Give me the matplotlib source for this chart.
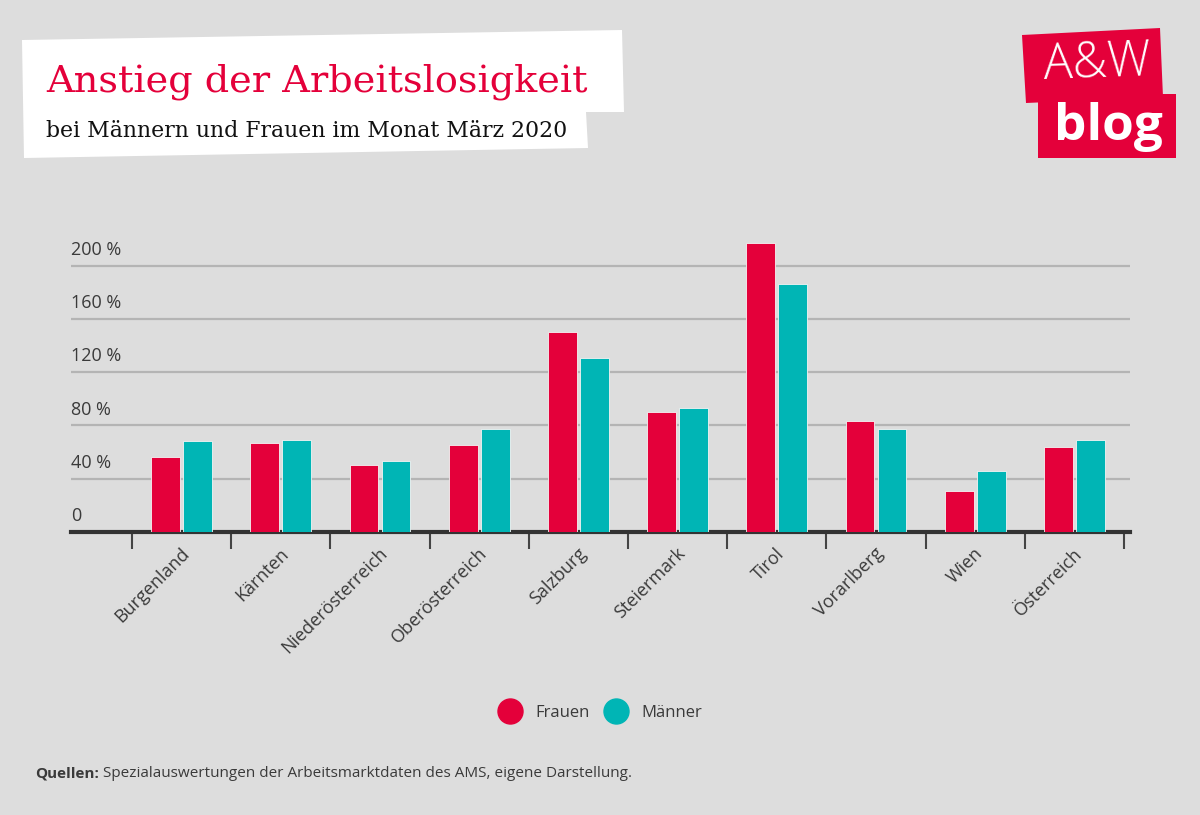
import matplotlib
matplotlib.use("Agg")
import matplotlib.pyplot as plt
from matplotlib.patches import Polygon
from matplotlib.lines import Line2D
import matplotlib.transforms as mtransforms
import numpy as np

# data
regions = ["Burgenland", "Kärnten", "Niederösterreich", "Oberösterreich", "Salzburg",
           "Steiermark", "Tirol", "Vorarlberg", "Wien", "Österreich"]
frauen = [56, 67, 50, 65, 150, 90, 217, 83, 31, 64]
maenner = [68, 69, 53, 77, 131, 93, 186, 77, 46, 69]
y_ticks = [0, 40, 80, 120, 160, 200]
y_labels = ["0", "40 %", "80 %", "120 %", "160 %", "200 %"]

RED = "#e4003a"
TEAL = "#00b5b5"
BG = "#dddddd"
TXT = "#3a3a3a"
SANS = ["Open Sans", "DejaVu Sans"]
SERIF = ["DejaVu Serif"]

W, H = 1200, 815
fig = plt.figure(figsize=(12, 8.15), dpi=100, facecolor=BG)


def px(x, y):
    return (x / W, 1 - y / H)


# title box (white, slightly skewed)
box = [(22, 40), (622, 30), (624, 112), (586, 112), (588, 148), (24, 158)]
fig.patches.append(Polygon([px(*p) for p in box], closed=True, facecolor="white",
                           edgecolor="none", transform=fig.transFigure, zorder=0))
fig.text(*px(46, 91), "Anstieg der Arbeitslosigkeit", color=RED, fontsize=27.5,
         family=SERIF, va="baseline", ha="left")
fig.text(*px(46, 137), "bei Männern und Frauen im Monat März 2020", color="#111111",
         fontsize=15.8, family=SERIF, va="baseline", ha="left")

# logo
logo1 = [(1022, 35), (1160, 28), (1163, 97), (1026, 103)]
logo2 = [(1038, 94), (1176, 94), (1176, 158), (1038, 158)]
for poly in (logo1, logo2):
    fig.patches.append(Polygon([px(*p) for p in poly], closed=True, facecolor=RED,
                               edgecolor="none", transform=fig.transFigure, zorder=1))
fig.text(*px(1097, 64), "A&W", color="white", fontsize=35, family=SANS,
         fontweight="light", ha="center", va="center", rotation=2, zorder=2)
fig.text(*px(1108, 127), "blog", color="white", fontsize=37, family=SANS,
         fontweight="bold", ha="center", va="center", zorder=2)

# main axes
ax = fig.add_axes([71 / W, 1 - 532 / H, (1130 - 71) / W, (532 - 239) / H])
ax.set_facecolor(BG)
x = np.arange(len(regions))
bw = 0.29
ax.bar(x - bw / 2 - 0.016, frauen, bw, color=RED, edgecolor="#f4f4f4", linewidth=0.6, zorder=3)
ax.bar(x + bw / 2 + 0.016, maenner, bw, color=TEAL, edgecolor="#f4f4f4", linewidth=0.6, zorder=3)

ax.set_xlim(-1.115, 9.56)
ax.set_ylim(0, 220)
for v in y_ticks[1:]:
    ax.axhline(v, color="#b4b4b4", linewidth=1.6, zorder=1)

for s in ["top", "right", "left"]:
    ax.spines[s].set_visible(False)
ax.spines["bottom"].set_linewidth(3)
ax.spines["bottom"].set_color("#333333")
ax.set_yticks([])

ax.set_xticks(np.arange(len(regions) + 1) - 0.5, minor=False)
ax.set_xticklabels([])
ax.tick_params(axis="x", length=12, width=1.5, color="#444444", direction="out")

# category labels, rotated
for i, name in enumerate(regions):
    ax.annotate(name, xy=(i, 0), xycoords="data", xytext=(-1, -9),
                textcoords="offset points", rotation=45, ha="right", va="top",
                rotation_mode="anchor", fontsize=13, family=SANS, color=TXT)

# y labels above gridlines
trans = mtransforms.blended_transform_factory(ax.transAxes, ax.transData)
for v, lab in zip(y_ticks, y_labels):
    ax.annotate(lab, xy=(0, v), xycoords=trans, xytext=(0, 5), textcoords="offset points",
                ha="left", va="bottom", fontsize=13, family=SANS, color=TXT)

# legend
handles = [Line2D([], [], marker="o", linestyle="none", markersize=18, color=RED),
           Line2D([], [], marker="o", linestyle="none", markersize=18, color=TEAL)]
fig.legend(handles, ["Frauen", "Männer"], loc="center", bbox_to_anchor=px(598, 713),
           ncol=2, frameon=False, prop={"family": SANS, "size": 12},
           labelcolor=TXT, handletextpad=0.5, columnspacing=0.6)

# source line
t = fig.text(*px(35, 777), "Quellen:", fontsize=11, family=SANS, fontweight="bold",
             color=TXT, ha="left", va="baseline")
fig.canvas.draw()
bb = t.get_window_extent()
fig.text((bb.x1 + 4) / W, 1 - 777 / H,
         "Spezialauswertungen der Arbeitsmarktdaten des AMS, eigene Darstellung.",
         fontsize=11, family=SANS, color=TXT, ha="left", va="baseline")

fig.savefig("out.png", dpi=100, facecolor=BG)
